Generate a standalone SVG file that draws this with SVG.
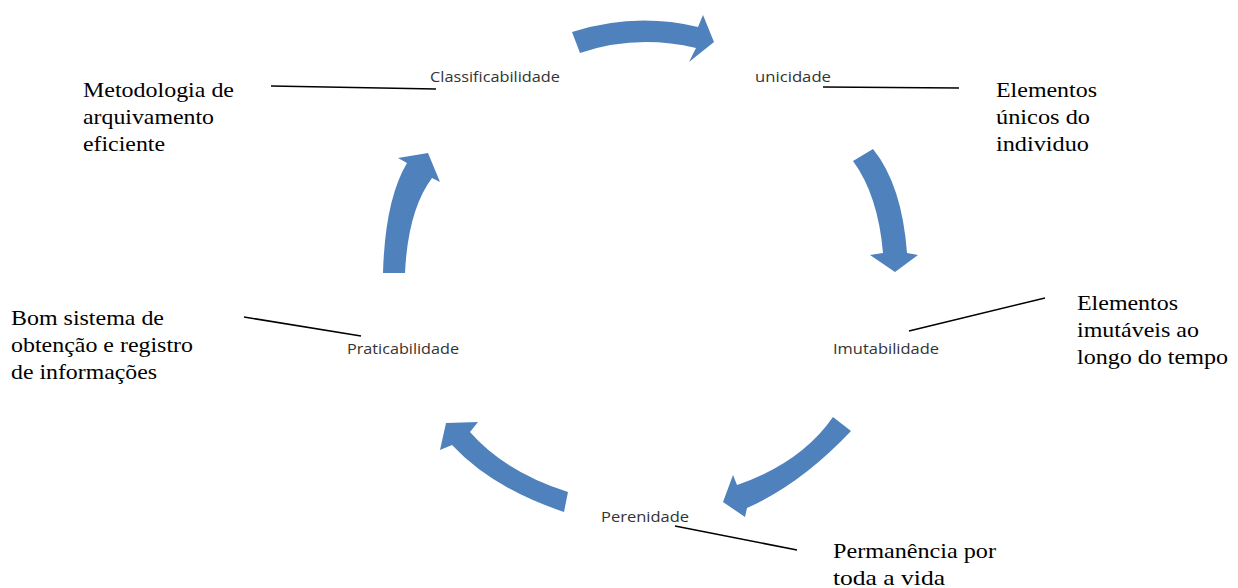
<svg xmlns="http://www.w3.org/2000/svg" width="1238" height="588" viewBox="0 0 1238 588">
<style>
.arrow{fill:#4f81bd;stroke:none}
.lbl{font-family:"Open Sans","DejaVu Sans",sans-serif;font-size:14.5px;fill:#333}
.note{font-family:"Liberation Serif","Times New Roman",serif;font-size:22px;fill:#000}
.conn{stroke:#000;stroke-width:1.5;fill:none}
</style>
<rect width="1238" height="588" fill="#fff"/>
<g id="cycle-arrows">
<path class="arrow" d="M572,32 Q635,12 698,27 L703,15 L714,42 L689,62 L696,48 Q636,34 580,53 Z"/>
<path class="arrow" d="M873,149 Q902,185 907,253 L918,255 L895,272 L870,255 L883,253 Q878,195 853,161 Z"/>
<path class="arrow" d="M851,431 Q801,484 747,508 L745,517 L723,502 L733,475 L737,485 Q801,463 833,417 Z"/>
<path class="arrow" d="M564,512 Q492,488 452,445 L440,450 L446,423 L478,422 L470,432 Q505,472 568,492 Z"/>
<path class="arrow" d="M383,273 Q385,200 407,163 L398,158 L428,153 L440,182 L432,178 Q408,210 405,273 Z"/>
</g>
<g id="connectors">
<line class="conn" x1="271" y1="86" x2="436" y2="89"/>
<line class="conn" x1="823" y1="87" x2="959" y2="88"/>
<line class="conn" x1="909" y1="331" x2="1045" y2="298"/>
<line class="conn" x1="244" y1="317" x2="361" y2="336"/>
<line class="conn" x1="675" y1="526" x2="797" y2="550"/>
</g>
<g id="node-classificabilidade">
<text class="lbl" x="430" y="82" textLength="130" lengthAdjust="spacingAndGlyphs">Classificabilidade</text>
</g>
<g id="node-unicidade">
<text class="lbl" x="755" y="82" textLength="76" lengthAdjust="spacingAndGlyphs">unicidade</text>
</g>
<g id="node-imutabilidade">
<text class="lbl" x="833" y="354" textLength="106" lengthAdjust="spacingAndGlyphs">Imutabilidade</text>
</g>
<g id="node-perenidade">
<text class="lbl" x="601" y="522" textLength="88" lengthAdjust="spacingAndGlyphs">Perenidade</text>
</g>
<g id="node-praticabilidade">
<text class="lbl" x="347" y="354" textLength="112" lengthAdjust="spacingAndGlyphs">Praticabilidade</text>
</g>
<g id="note-classificabilidade">
<text class="note"><tspan x="83" y="97" textLength="151" lengthAdjust="spacingAndGlyphs">Metodologia de</tspan><tspan x="83" y="124" textLength="131" lengthAdjust="spacingAndGlyphs">arquivamento</tspan><tspan x="83" y="151" textLength="82" lengthAdjust="spacingAndGlyphs">eficiente</tspan></text>
</g>
<g id="note-unicidade">
<text class="note"><tspan x="996" y="97" textLength="101" lengthAdjust="spacingAndGlyphs">Elementos</tspan><tspan x="996" y="124" textLength="94" lengthAdjust="spacingAndGlyphs">únicos do</tspan><tspan x="996" y="151" textLength="93" lengthAdjust="spacingAndGlyphs">individuo</tspan></text>
</g>
<g id="note-imutabilidade">
<text class="note"><tspan x="1077" y="310" textLength="101" lengthAdjust="spacingAndGlyphs">Elementos</tspan><tspan x="1077" y="337" textLength="122" lengthAdjust="spacingAndGlyphs">imutáveis ao</tspan><tspan x="1077" y="364" textLength="151" lengthAdjust="spacingAndGlyphs">longo do tempo</tspan></text>
</g>
<g id="note-praticabilidade">
<text class="note"><tspan x="11" y="325" textLength="153" lengthAdjust="spacingAndGlyphs">Bom sistema de</tspan><tspan x="11" y="352" textLength="182" lengthAdjust="spacingAndGlyphs">obtenção e registro</tspan><tspan x="11" y="379" textLength="146" lengthAdjust="spacingAndGlyphs">de informações</tspan></text>
</g>
<g id="note-perenidade">
<text class="note"><tspan x="833" y="558" textLength="163" lengthAdjust="spacingAndGlyphs">Permanência por</tspan><tspan x="833" y="585" textLength="112" lengthAdjust="spacingAndGlyphs">toda a vida</tspan></text>
</g>
</svg>
